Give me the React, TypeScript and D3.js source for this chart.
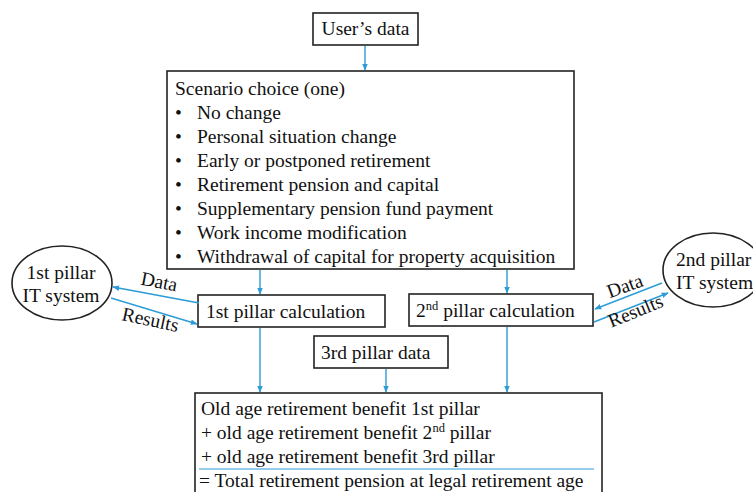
import React from 'react';
import * as d3 from 'd3';

const scenarioTitle = "Scenario choice (one)";
const scenarioItems = [
  "No change",
  "Personal situation change",
  "Early or postponed retirement",
  "Retirement pension and capital",
  "Supplementary pension fund payment",
  "Work income modification",
  "Withdrawal of capital for property acquisition",
];
const resultLines = [
  ["Old age retirement benefit 1st pillar"],
  ["+ old age retirement benefit 2", "nd", " pillar"],
  ["+ old age retirement benefit 3rd pillar"],
];
const totalLine = "= Total retirement pension at legal retirement age";

const W = 753;
const H = 492;
const blue = "#2b9cd8";
const font = "Liberation Serif";
const fs = 19.5;

const arrowPath = (x1: number, y1: number, x2: number, y2: number) => {
  const p = d3.path();
  p.moveTo(x1, y1);
  p.lineTo(x2, y2);
  return p.toString();
};

const Arrow = ({ a }: { a: number[] }) => (
  <path d={arrowPath(a[0], a[1], a[2], a[3])} stroke={blue} strokeWidth={1.4} fill="none" markerEnd="url(#ah)" />
);

const Box = ({ x, y, w, h }: { x: number; y: number; w: number; h: number }) => (
  <rect x={x} y={y} width={w} height={h} fill="#fff" stroke="#222" strokeWidth={1.6} />
);

export default function App() {
  const rowY = d3.scaleLinear().domain([0, 1]).range([94.5, 118.5]);
  const resY = d3.scaleLinear().domain([0, 1]).range([415, 439]);
  return (
    <svg width={W} height={H} style={{ position: 'absolute', left: 0, top: 0, background: '#fff' }}
      fontFamily={font} fontSize={fs} fill="#111">
      <defs>
        <marker id="ah" viewBox="0 0 10 10" refX="9" refY="5" markerWidth="5" markerHeight="5" orient="auto">
          <path d="M0,1 L10,5 L0,9 z" fill={blue} />
        </marker>
      </defs>

      {/* top */}
      <Box x={313} y={13} w={105} h={32} />
      <text x={365.5} y={35} textAnchor="middle">User’s data</text>
      <Arrow a={[365, 46, 365, 70]} />

      {/* scenario box */}
      <Box x={167} y={71} w={407} h={198} />
      <text x={175} y={rowY(0)}>{scenarioTitle}</text>
      {scenarioItems.map((s, i) => (
        <g key={s}>
          <text x={175} y={rowY(i + 1)}>•</text>
          <text x={197} y={rowY(i + 1)}>{s}</text>
        </g>
      ))}

      {/* down to calculations */}
      <Arrow a={[260, 270, 260, 294]} />
      <Arrow a={[507, 270, 507, 293]} />

      {/* calculation boxes */}
      <Box x={198} y={295} w={187} h={32} />
      <text x={206} y={318}>1st pillar calculation</text>
      <Box x={409} y={294} w={184} h={32} />
      <text x={416} y={317}>2<tspan dy={-7} fontSize={12.5}>nd</tspan><tspan dy={7}> pillar calculation</tspan></text>

      <Box x={314} y={336} w={134} h={32} />
      <text x={321} y={359}>3rd pillar data</text>

      {/* down to result */}
      <Arrow a={[260, 328, 260, 392]} />
      <Arrow a={[386, 369, 386, 392]} />
      <Arrow a={[507, 327, 507, 392]} />

      {/* result box */}
      <rect x={195} y={393} width={407} height={110} fill="#fff" stroke="#222" strokeWidth={1.6} />
      {resultLines.map((parts, i) => (
        <text key={i} x={201} y={resY(i)}>
          {parts.length === 1 ? parts[0] : (
            <>
              {parts[0]}<tspan dy={-7} fontSize={12.5}>{parts[1]}</tspan><tspan dy={7}>{parts[2]}</tspan>
            </>
          )}
        </text>
      ))}
      <line x1={199} x2={594} y1={469} y2={469} stroke={blue} strokeWidth={1.2} />
      <text x={199} y={487}>{totalLine}</text>

      {/* left IT system */}
      <ellipse cx={62} cy={283} rx={50} ry={37} fill="#fff" stroke="#222" strokeWidth={1.6} />
      <text x={61} y={279} textAnchor="middle">1st pillar</text>
      <text x={61} y={302} textAnchor="middle">IT system</text>
      <Arrow a={[199, 303, 113, 287]} />
      <Arrow a={[111, 298, 197, 324]} />
      <text transform="translate(158,288) rotate(11)" textAnchor="middle">Data</text>
      <text transform="translate(149,326) rotate(12)" textAnchor="middle">Results</text>

      {/* right IT system */}
      <ellipse cx={713} cy={270} rx={50} ry={37} fill="#fff" stroke="#222" strokeWidth={1.6} />
      <text x={676} y={266}>2nd pillar</text>
      <text x={676} y={289}>IT system</text>
      <Arrow a={[662, 283, 595, 309]} />
      <Arrow a={[594, 322, 668, 293]} />
      <text transform="translate(627,292) rotate(-20)" textAnchor="middle">Data</text>
      <text transform="translate(638,317) rotate(-22)" textAnchor="middle">Results</text>
    </svg>
  );
}
